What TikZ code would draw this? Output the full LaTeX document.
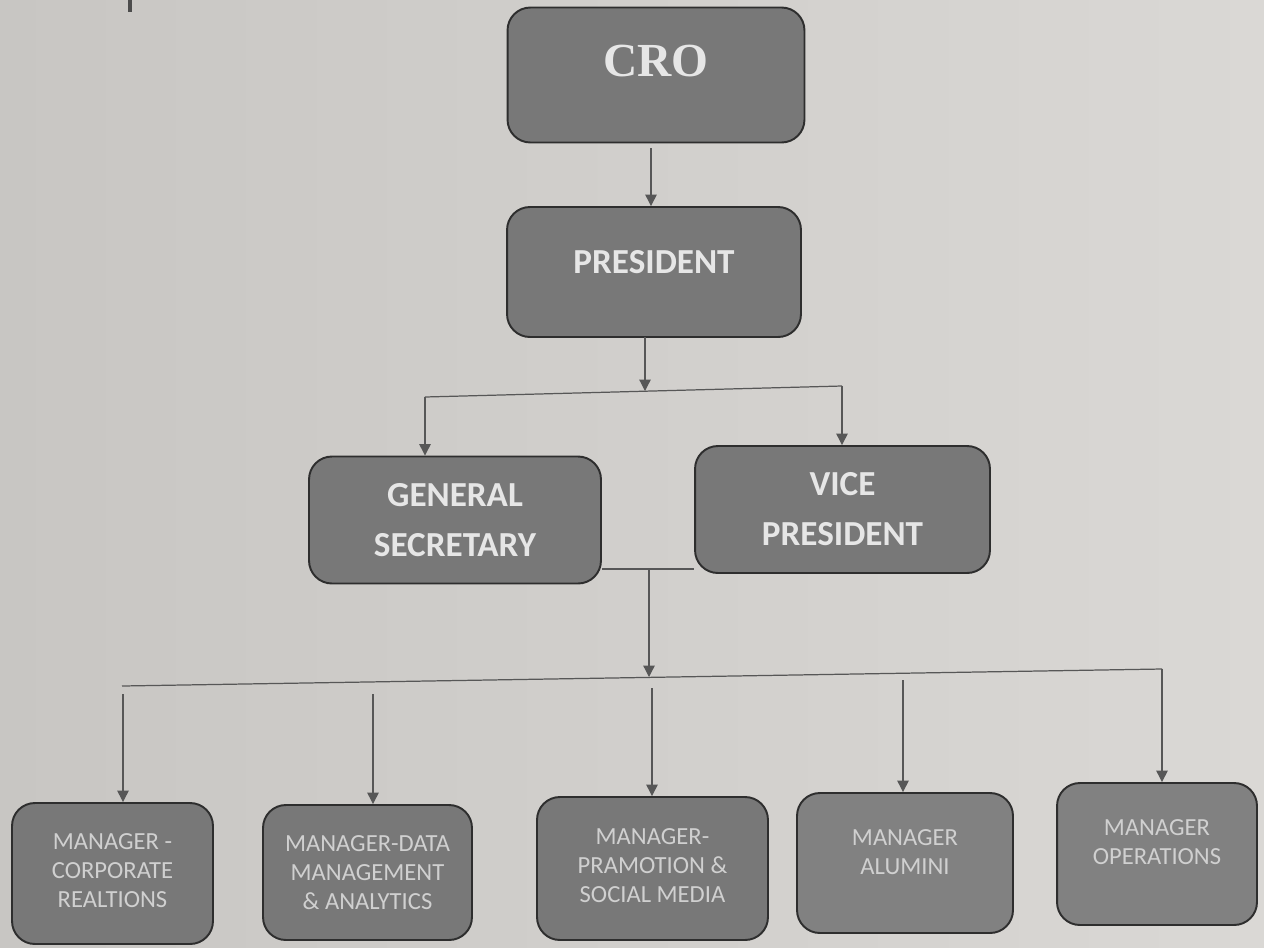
\documentclass[tikz,border=0pt]{standalone}
\usepackage{fontspec}
\setmainfont{Carlito}
\newfontfamily\croserif{Liberation Serif}
\usetikzlibrary{arrows.meta}
\definecolor{bgL}{HTML}{C8C6C3}
\definecolor{bgR}{HTML}{DAD8D5}
\definecolor{boxfill}{HTML}{787878}
\definecolor{boxfillB}{HTML}{818181}
\definecolor{boxedge}{HTML}{2E2E2E}
\definecolor{toptext}{HTML}{E6E6E6}
\definecolor{lowtext}{HTML}{D0D0D0}
\definecolor{wire}{HTML}{575757}
\tikzset{
  orgbox/.style={draw=boxedge, line width=1.1pt, fill=boxfill, rounded corners=13pt,
    align=center, inner sep=0pt},
  topbox/.style={orgbox, text=toptext, font=\bfseries\fontsize{20}{28.5}\selectfont},
  lowbox/.style={orgbox, text=lowtext, font=\fontsize{14}{16.5}\selectfont},
  wireline/.style={draw=wire, line width=0.7pt},
  arr/.style={wireline, -{Triangle[length=6.5pt,width=6.5pt]}},
}
\begin{document}
\begin{tikzpicture}[x=0.02cm, y=-0.02cm]
\useasboundingbox (0,0) rectangle (1264,947);
\shade[left color=bgL, right color=bgR] (0,0) rectangle (1264,947);
% small tick at top left
\draw[line width=1.8pt, draw=black!70] (130,0) -- (130,12);

% boxes
\node[orgbox, text=toptext, font=\croserif\bfseries\fontsize{27}{30}\selectfont,
  minimum width=5.94cm, minimum height=2.70cm, text depth=16pt] (cro) at (656,75) {CRO};
\node[topbox, minimum width=5.88cm, minimum height=2.60cm, text depth=11.4pt] (pres) at (654,272) {PRESIDENT};
\node[topbox, minimum width=5.84cm, minimum height=2.54cm] (gs) at (455,520) {GENERAL\\SECRETARY};
\node[topbox, minimum width=5.90cm, minimum height=2.54cm] (vp) at (842.5,509.5) {VICE\\PRESIDENT};

\node[lowbox, minimum width=4.02cm, minimum height=2.82cm, text depth=3pt] (b1) at (112.5,873.5) {MANAGER -\\CORPORATE\\REALTIONS};
\node[lowbox, minimum width=4.18cm, minimum height=2.70cm] (b2) at (367.5,872.5) {MANAGER-DATA\\MANAGEMENT\\\&{} ANALYTICS};
\node[lowbox, minimum width=4.62cm, minimum height=2.86cm, text depth=3pt] (b3) at (652.5,868.5) {MANAGER-\\PRAMOTION \&\\SOCIAL MEDIA};
\node[lowbox, fill=boxfillB, minimum width=4.32cm, minimum height=2.80cm, text depth=12.5pt] (b4) at (905,863) {MANAGER\\ALUMINI};
\node[lowbox, fill=boxfillB, minimum width=4.00cm, minimum height=2.84cm, text depth=13.7pt] (b5) at (1157,854) {MANAGER\\OPERATIONS};

% connectors: CRO -> PRESIDENT
\coordinate (c1) at (651,148);
\draw[arr] (c1) -- (c1 |- pres.north);

% PRESIDENT -> GS / VP
\coordinate (p1) at (645,337);
\coordinate (p2) at (645,391);
\coordinate (gsIn) at (425,397);
\coordinate (vpIn) at (842,386);
\draw[arr] (p1) -- (p2);
\draw[wireline] (gsIn) -- (vpIn);
\draw[arr] (gsIn) -- (gsIn |- gs.north);
\draw[arr] (vpIn) -- (vpIn |- vp.north);

% GS -- VP link and drop to bus
\coordinate (lk) at (649,569);
\draw[wireline] (gs.east |- lk) -- (vp.west |- lk);
\coordinate (lk2) at (649,677);
\draw[arr] (lk) -- (lk2);

% bus to managers
\coordinate (busL) at (122,686);
\coordinate (busR) at (1162,669);
\draw[wireline] (busL) -- (busR);
\coordinate (d1) at (123,694);
\coordinate (d2) at (373,694);
\coordinate (d3) at (652,688);
\coordinate (d4) at (903,680);
\draw[arr] (d1) -- (d1 |- b1.north);
\draw[arr] (d2) -- (d2 |- b2.north);
\draw[arr] (d3) -- (d3 |- b3.north);
\draw[arr] (d4) -- (d4 |- b4.north);
\draw[arr] (busR) -- (busR |- b5.north);
\end{tikzpicture}
\end{document}
